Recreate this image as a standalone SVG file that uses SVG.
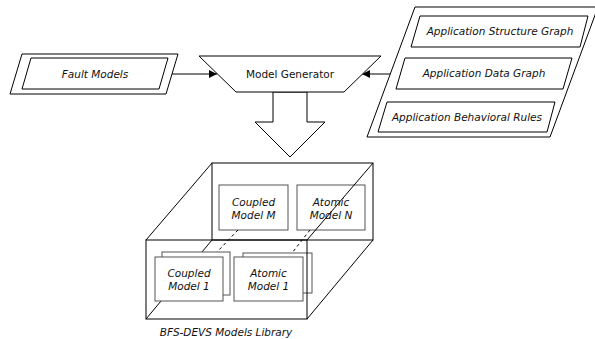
<svg xmlns="http://www.w3.org/2000/svg" width="595" height="339" viewBox="0 0 595 339">
<defs>
<style>
.ln{fill:none;stroke:#000;stroke-width:1}
.sh{fill:#fff;stroke:#000;stroke-width:1}
.card{fill:#fff;stroke:#555;stroke-width:1}
.dash{fill:none;stroke:#000;stroke-width:1;stroke-dasharray:3 3}
.t{font-family:"DejaVu Sans",Verdana,sans-serif;font-size:10.5px;fill:#111;text-anchor:middle}
.i{font-style:italic}
</style>
<marker id="ah" viewBox="0 0 10 10" refX="10" refY="5" markerWidth="8" markerHeight="8" markerUnits="userSpaceOnUse" orient="auto">
<path d="M0,0 L10,5 L0,10 Z" fill="#000"/>
</marker>
</defs>
<rect width="595" height="339" fill="#fff"/>

<g id="connectors">
<line class="ln" x1="172" y1="74" x2="217" y2="74" marker-end="url(#ah)"/>
<line class="ln" x1="390" y1="74" x2="362" y2="74" marker-end="url(#ah)"/>
<polygon class="sh" points="273,92 307,92 307,122 325,122 290,157 255,122 273,122"/>
</g>

<g id="fault-models">
<polygon class="sh" points="22,54 178,54 166,94 10,94"/>
<polygon class="sh" points="31,58 168,58 159,89 22,89"/>
<text class="t i" x="95" y="78">Fault Models</text>
</g>

<g id="model-generator">
<polygon class="sh" points="199,56 381,56 344,92 236,92"/>
<text class="t" x="290" y="78">Model Generator</text>
</g>

<g id="application-inputs">
<polygon class="sh" points="415,7 598,7 550,137 367,137"/>
<g id="app-structure">
<polygon class="sh" points="420,16 588,16 580,47 411,47"/>
<text class="t i" x="500" y="35">Application Structure Graph</text>
</g>
<g id="app-data">
<polygon class="sh" points="405,58 572,58 563,89 396,89"/>
<text class="t i" x="484" y="77">Application Data Graph</text>
</g>
<g id="app-rules">
<polygon class="sh" points="387,102 555,102 547,132 378,132"/>
<text class="t i" x="467" y="121">Application Behavioral Rules</text>
</g>
</g>

<g id="models-library">
<rect class="ln" x="212" y="163" width="161" height="77"/>
<g id="coupled-model-m">
<rect class="card" x="219" y="185" width="69" height="45"/>
<text class="t i" x="253.5" y="206">Coupled</text>
<text class="t i" x="253.5" y="219">Model M</text>
</g>
<g id="atomic-model-n">
<rect class="card" x="297" y="185" width="68" height="45"/>
<text class="t i" x="331" y="206">Atomic</text>
<text class="t i" x="331" y="219">Model N</text>
</g>
<line class="ln" x1="146" y1="240" x2="212" y2="163"/>
<line class="ln" x1="307" y1="240" x2="373" y2="163"/>
<line class="ln" x1="307" y1="319" x2="373" y2="240"/>
<line class="ln" x1="146" y1="319" x2="212" y2="240"/>
<line class="dash" x1="238" y1="230" x2="217" y2="252"/>
<line class="dash" x1="310" y1="230" x2="292" y2="253"/>
<g id="coupled-model-1">
<rect class="card" x="162" y="252" width="68" height="43"/>
<rect class="card" x="155" y="257" width="68" height="44"/>
<text class="t i" x="189" y="277">Coupled</text>
<text class="t i" x="189" y="290">Model 1</text>
</g>
<g id="atomic-model-1">
<rect class="card" x="243" y="253" width="69" height="40"/>
<rect class="card" x="234" y="257" width="69" height="44"/>
<text class="t i" x="268.5" y="277">Atomic</text>
<text class="t i" x="268.5" y="290">Model 1</text>
</g>
<rect class="ln" x="146" y="240" width="161" height="79"/>
<text class="t i" x="226" y="336">BFS-DEVS Models Library</text>
</g>
</svg>
